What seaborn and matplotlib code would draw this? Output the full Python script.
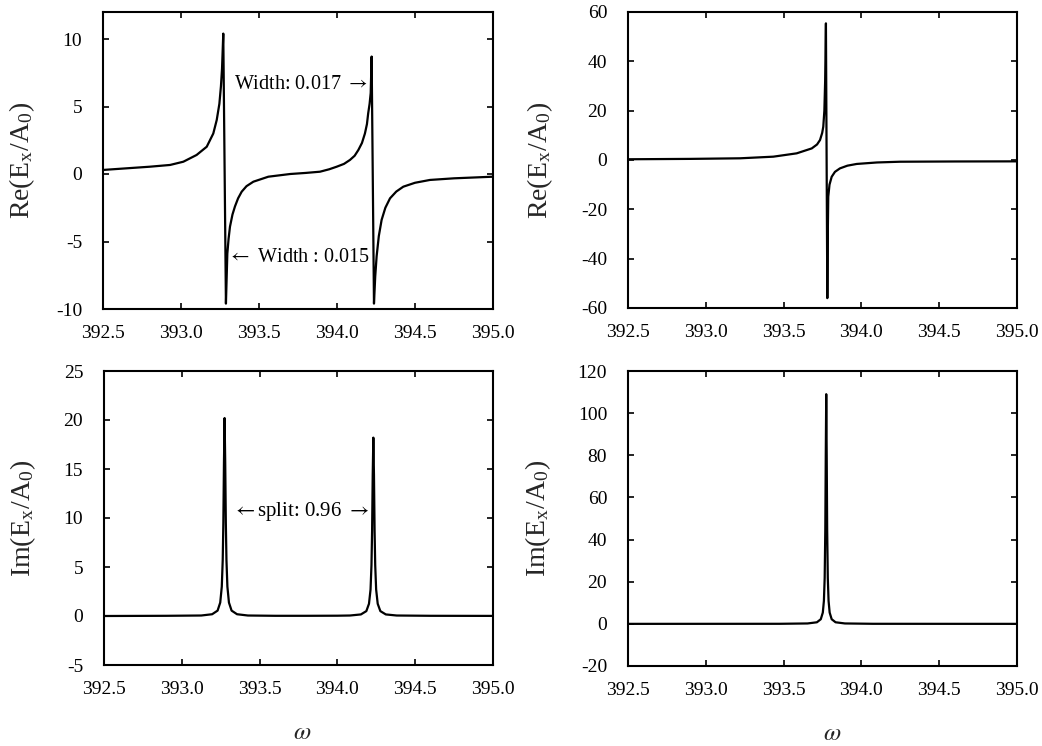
import matplotlib
matplotlib.use("Agg")
import matplotlib.pyplot as plt
import seaborn as sns
import pandas as pd

# ---------------- data ----------------
# Top-left: Re(Ex/A0), two split resonances
re_left_w = [392.50, 392.65, 392.80, 392.93, 393.015, 393.10, 393.165, 393.207, 393.229,
             393.246, 393.256, 393.263, 393.271, 393.288, 393.297, 393.305, 393.314,
             393.33, 393.346, 393.366, 393.389, 393.42, 393.464, 393.56, 393.70, 393.80,
             393.891, 393.95, 393.998, 394.045, 394.083, 394.113, 394.137, 394.16,
             394.179, 394.192, 394.20, 394.209, 394.216, 394.222, 394.237, 394.245,
             394.254, 394.268, 394.286, 394.31, 394.34, 394.38, 394.425, 394.50,
             394.596, 394.75, 395.00]
re_left_v = [0.30, 0.42, 0.54, 0.67, 0.91, 1.41, 2.02, 3.00, 4.00,
             5.20, 6.50, 7.80, 10.40, -9.60, -5.90, -4.80, -3.90,
             -3.00, -2.40, -1.80, -1.31, -0.90, -0.57, -0.20, 0.00, 0.08,
             0.17, 0.35, 0.54, 0.75, 1.04, 1.35, 1.78, 2.30,
             3.00, 3.70, 4.50, 5.20, 6.00, 8.70, -9.60, -7.60,
             -6.10, -4.60, -3.40, -2.50, -1.80, -1.30, -0.94, -0.65,
             -0.44, -0.32, -0.20]

# Top-right: Re(Ex/A0), single resonance
re_right_w = [392.50, 392.90, 393.22, 393.434, 393.584, 393.681, 393.715, 393.734, 393.748,
              393.755, 393.762, 393.767, 393.772, 393.781, 393.784, 393.787, 393.795,
              393.809, 393.83, 393.862, 393.91, 393.97, 394.10, 394.248, 394.60, 395.00]
re_right_v = [0.30, 0.45, 0.69, 1.35, 2.70, 4.70, 6.30, 8.10, 11.0,
              13.5, 20.0, 32.0, 55.4, -56.0, -30.0, -14.9, -10.0,
              -6.80, -4.80, -3.40, -2.30, -1.60, -1.00, -0.70, -0.60, -0.55]

# Bottom-left: Im(Ex/A0), two split peaks
im_left_w = [392.50, 392.90, 393.125, 393.195, 393.23, 393.247, 393.257, 393.263, 393.267,
             393.271, 393.275, 393.279, 393.283, 393.287, 393.293, 393.303, 393.32,
             393.355, 393.425, 393.60, 393.80, 394.00, 394.081, 394.151, 394.186,
             394.203, 394.213, 394.219, 394.223, 394.227, 394.231, 394.235, 394.239,
             394.243, 394.249, 394.259, 394.276, 394.311, 394.381, 394.60, 395.00]
im_left_v = [0.00, 0.02, 0.05, 0.18, 0.55, 1.37, 3.00, 5.70, 9.50,
             15.7, 20.2, 15.7, 9.50, 5.70, 3.00, 1.37, 0.55,
             0.18, 0.05, 0.02, 0.02, 0.03, 0.05, 0.16, 0.50,
             1.25, 2.70, 5.20, 8.70, 14.4, 18.2, 14.4, 8.70,
             5.20, 2.70, 1.25, 0.50, 0.16, 0.05, 0.02, 0.01]

# Bottom-right: Im(Ex/A0), single peak
im_right_w = [392.50, 393.20, 393.474, 393.654, 393.714, 393.739, 393.752, 393.759, 393.764,
              393.768, 393.771, 393.774, 393.777, 393.780, 393.784, 393.789, 393.796,
              393.809, 393.834, 393.894, 394.074, 394.60, 395.00]
im_right_v = [0.00, 0.02, 0.03, 0.19, 0.75, 2.20, 5.35, 10.9, 21.8,
              44.7, 80.0, 109.0, 80.0, 44.7, 21.8, 10.9, 5.35,
              2.20, 0.75, 0.19, 0.03, 0.01, 0.00]

xticks = [392.5, 393.0, 393.5, 394.0, 394.5, 395.0]
xtick_labels = ["392.5", "393.0", "393.5", "394.0", "394.5", "395.0"]
yticks_tl = [-10, -5, 0, 5, 10]
yticks_tr = [-60, -40, -20, 0, 20, 40, 60]
yticks_bl = [-5, 0, 5, 10, 15, 20, 25]
yticks_br = [-20, 0, 20, 40, 60, 80, 100, 120]

# ---------------- style ----------------
sns.set_theme(style="ticks")
plt.rcParams["font.family"] = ["Liberation Serif", "DejaVu Serif"]
plt.rcParams["mathtext.fontset"] = "stix"
plt.rcParams["axes.linewidth"] = 1.5

fig = plt.figure(figsize=(10.42, 7.46), dpi=100)
W, H = 1042, 746

def make_ax(l, r, t, b):
    return fig.add_axes([l / W, 1 - b / H, (r - l) / W, (b - t) / H])

ax_tl = make_ax(103, 493, 12, 309)
ax_tr = make_ax(628, 1017, 12, 308)
ax_bl = make_ax(104, 493, 371, 665)
ax_br = make_ax(628, 1017, 371, 666)

RE = r"Re(E$_\mathregular{x}$/A$_\mathregular{0}$)"
IM = r"Im(E$_\mathregular{x}$/A$_\mathregular{0}$)"
panels = [
    (ax_tl, re_left_w, re_left_v, (-10, 12), yticks_tl, RE, -0.170),
    (ax_tr, re_right_w, re_right_v, (-60, 60), yticks_tr, RE, -0.188),
    (ax_bl, im_left_w, im_left_v, (-5, 25), yticks_bl, IM, -0.170),
    (ax_br, im_right_w, im_right_v, (-20, 120), yticks_br, IM, -0.193),
]

for ax, w, v, ylim, yt, ylab, lx in panels:
    df = pd.DataFrame({"w": w, "v": v})
    sns.lineplot(data=df, x="w", y="v", ax=ax, color="black", linewidth=1.6,
                 estimator=None, sort=False)
    ax.set_xlim(392.5, 395.0)
    ax.set_ylim(*ylim)
    ax.set_xticks(xticks)
    ax.set_xticklabels(xtick_labels)
    ax.set_yticks(yt)
    ax.set_yticklabels([str(t) for t in yt])
    ax.tick_params(direction="in", length=4, width=1.2, top=True, right=True,
                   labelsize=14, colors="black")
    ax.tick_params(axis="x", pad=11.5)
    ax.tick_params(axis="y", pad=15)
    ax.set_xlabel("")
    ax.set_ylabel(ylab, fontsize=20)
    ax.yaxis.set_label_coords(lx, 0.5)
    for s in ax.spines.values():
        s.set_visible(True)
        s.set_color("black")
        s.set_linewidth(1.5)

# omega labels
ax_bl.text(0.510, -0.23, r"$\omega$", transform=ax_bl.transAxes, ha="center",
           va="center", fontsize=18)
ax_br.text(0.525, -0.23, r"$\omega$", transform=ax_br.transAxes, ha="center",
           va="center", fontsize=18)

# annotations
ax_tl.text(394.195, 6.6, r"Width: 0.017 $\rightarrow$", ha="right", va="center",
           fontsize=14.5, color="black")
ax_tl.text(393.300, -6.2, r"$\leftarrow$ Width : 0.015", ha="left", va="center",
           fontsize=14.5, color="black")
ax_bl.text(393.76, 10.7, r"$\leftarrow$split: 0.96 $\rightarrow$", ha="center",
           va="center", fontsize=15, color="black")

fig.savefig("out.png", dpi=100, facecolor="white")
